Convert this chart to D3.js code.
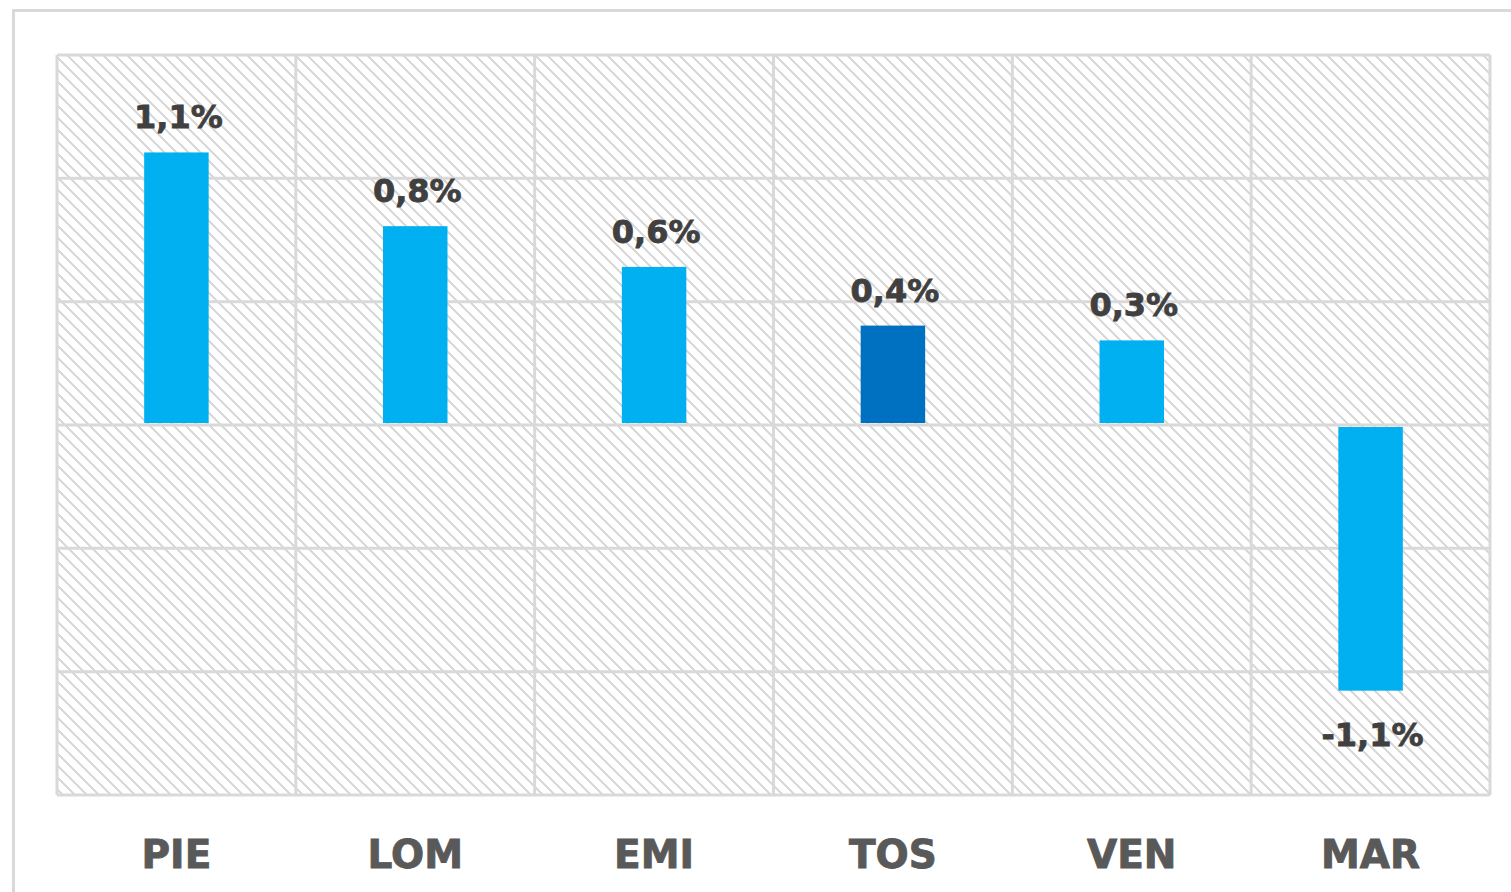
<!DOCTYPE html>
<html>
<head>
  <meta charset="utf-8">
  <script src="https://d3js.org/d3.v7.min.js"></script>
  <style>
    body { margin: 0; background: #fff; }
    .chart text { font-family: "DejaVu Sans", Verdana, sans-serif; font-weight: bold; }
    .chart .value { fill: #404040; stroke: #404040; stroke-width: 0.8px; font-size: 32px; text-anchor: middle; }
    .chart .cat { fill: #595959; stroke: #595959; stroke-width: 0.9px; font-size: 39px; text-anchor: middle; }
  </style>
</head>
<body>
  <svg class="chart"></svg>
  <script>
    var categories = ['PIE', 'LOM', 'EMI', 'TOS', 'VEN', 'MAR'];
    var values = [1.105, 0.806, 0.641, 0.403, 0.343, -1.077];
    var highlight = ['TOS'];
    var yTicks = [-1.5, -1, -0.5, 0, 0.5, 1, 1.5];

    var width = 1511;
    var height = 892;
    var plot = { left: 57, right: 1490, top: 55, bottom: 795 };

    var svg = d3.select('.chart')
      .attr('width', width)
      .attr('height', height);

    // hatch fill like the excel plot area
    var pat = svg.append('defs').append('pattern')
      .attr('id', 'hatch')
      .attr('patternUnits', 'userSpaceOnUse')
      .attr('width', 12)
      .attr('height', 12);
    pat.append('path')
      .attr('d', 'M-3,-3 L15,15 M-3,9 L3,15 M9,-3 L15,3')
      .attr('stroke', '#d9d9d9')
      .attr('stroke-width', 2.8)
      .attr('shape-rendering', 'crispEdges');

    // outer chart border
    svg.append('rect')
      .attr('x', 13.5).attr('y', 10.5)
      .attr('width', 1600).attr('height', 1000)
      .attr('fill', 'none')
      .attr('stroke', '#d9d9d9')
      .attr('stroke-width', 3);

    var x = d3.scaleBand()
      .domain(categories)
      .range([plot.left, plot.right])
      .paddingInner(0.73)
      .paddingOuter(0.365);

    var xGrid = d3.scaleBand()
      .domain(categories)
      .range([plot.left, plot.right]);

    var y = d3.scaleLinear()
      .domain([-1.5, 1.5])
      .range([plot.bottom, plot.top]);

    svg.append('rect')
      .attr('x', plot.left).attr('y', plot.top)
      .attr('width', plot.right - plot.left)
      .attr('height', plot.bottom - plot.top)
      .attr('fill', 'url(#hatch)');

    var grid = svg.append('g')
      .attr('stroke', '#d9d9d9')
      .attr('stroke-width', 3);

    grid.selectAll('.h')
      .data(yTicks)
      .enter()
      .append('line')
      .attr('x1', plot.left).attr('x2', plot.right)
      .attr('y1', function (d) { return y(d); })
      .attr('y2', function (d) { return y(d); });

    grid.selectAll('.v')
      .data(categories.concat(['end']))
      .enter()
      .append('line')
      .attr('x1', function (d) { return d === 'end' ? plot.right : xGrid(d); })
      .attr('x2', function (d) { return d === 'end' ? plot.right : xGrid(d); })
      .attr('y1', plot.top).attr('y2', plot.bottom);

    var fmt = d3.formatLocale({
      decimal: ',', thousands: '.', grouping: [3], currency: ['', '€'], minus: '-'
    }).format('.1f');

    var bar = svg.selectAll('.bar')
      .data(categories)
      .enter()
      .append('g');

    bar.append('rect')
      .attr('x', function (d) { return x(d); })
      .attr('width', x.bandwidth())
      .attr('y', function (d, i) { return values[i] >= 0 ? y(values[i]) : y(0) + 2; })
      .attr('height', function (d, i) { return Math.abs(y(values[i]) - y(0)) - 2; })
      .attr('fill', function (d) { return highlight.indexOf(d) >= 0 ? '#0070C0' : '#00B0F0'; });

    bar.append('text')
      .attr('class', 'value')
      .attr('x', function (d) { return x(d) + x.bandwidth() / 2 + 2; })
      .attr('y', function (d, i) {
        return values[i] >= 0 ? y(values[i]) - 24 : y(values[i]) + 55;
      })
      .text(function (d, i) { return fmt(values[i]) + '%'; });

    bar.append('text')
      .attr('class', 'cat')
      .attr('x', function (d) { return x(d) + x.bandwidth() / 2; })
      .attr('y', 868)
      .text(function (d) { return d; });
  </script>
</body>
</html>
